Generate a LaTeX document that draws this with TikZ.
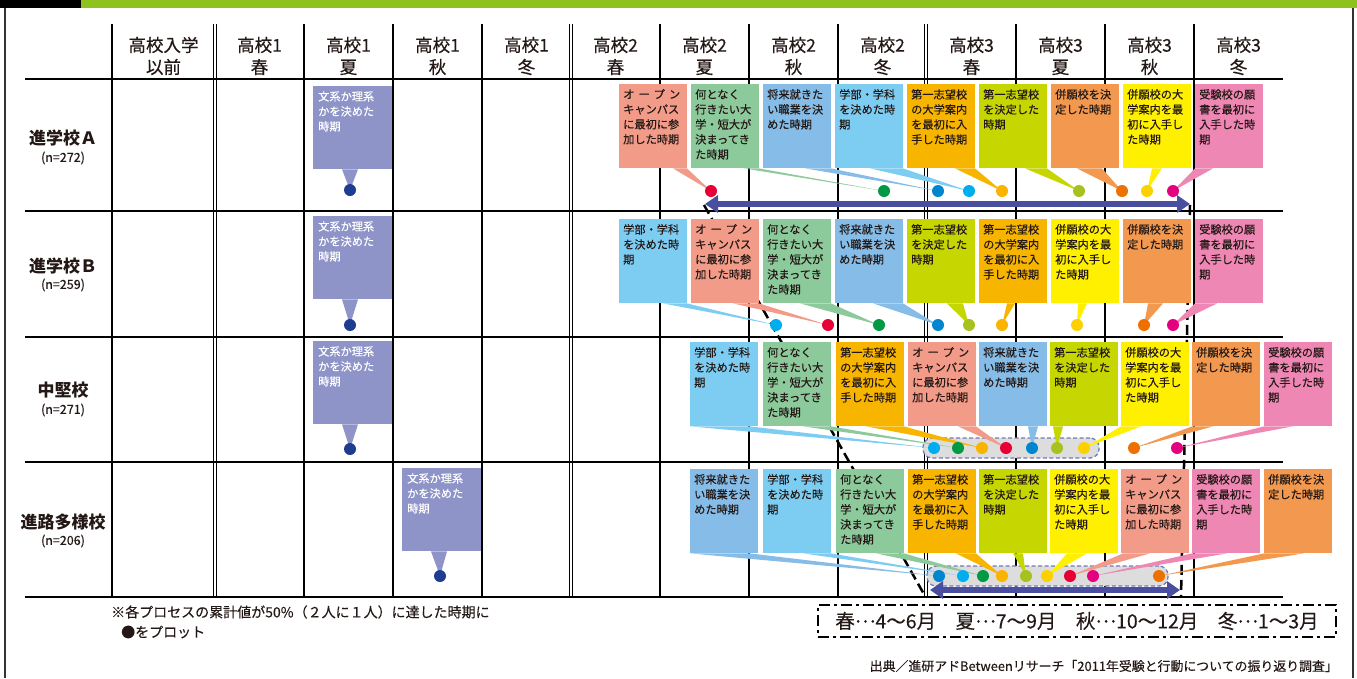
\documentclass[tikz,border=0pt]{standalone}
\usepackage{fontspec}
\setmainfont{Noto Sans CJK JP}
\newfontfamily\jpmed[FakeBold=0.5]{Noto Sans CJK JP}
\newfontfamily\jpsemi[FakeBold=0.25]{Noto Sans CJK JP}
\usetikzlibrary{calc,arrows.meta}
\pgfdeclarelayer{grid}
\pgfdeclarelayer{mid}
\pgfsetlayers{grid,mid,main}
\definecolor{cSal}{HTML}{F19B88}
\definecolor{cGrn}{HTML}{8CC99B}
\definecolor{cBlu}{HTML}{86BDE8}
\definecolor{cLbl}{HTML}{7DCDF3}
\definecolor{cGld}{HTML}{F8B500}
\definecolor{cYgr}{HTML}{C6D600}
\definecolor{cOrg}{HTML}{F2994F}
\definecolor{cYel}{HTML}{FFF000}
\definecolor{cPnk}{HTML}{EE87B3}
\definecolor{cPur}{HTML}{8E93C8}
\definecolor{dRed}{HTML}{E60033}
\definecolor{dGrn}{HTML}{009944}
\definecolor{dBlu}{HTML}{0085CF}
\definecolor{dCya}{HTML}{00AEEF}
\definecolor{dGld}{HTML}{FAB400}
\definecolor{dYgr}{HTML}{A5C21F}
\definecolor{dOrg}{HTML}{EE7000}
\definecolor{dYel}{HTML}{FDD000}
\definecolor{dMag}{HTML}{E4007F}
\definecolor{dNav}{HTML}{1F3D8F}
\definecolor{cArr}{HTML}{4A4E9E}
\definecolor{cBar}{HTML}{8DC21F}
\definecolor{cTxt}{HTML}{231815}
\definecolor{cHl}{HTML}{DDDDDD}
\definecolor{cHlB}{HTML}{7378B8}
\newcommand\cbt[1]{\parbox[b][74pt][t]{60pt}{\raggedright\jpsemi\fontsize{11.2}{15}\selectfont #1}}
\newcommand\pbt[1]{\parbox[b][73pt][t]{69pt}{\raggedright\jpsemi\fontsize{11.2}{15}\selectfont #1}}
\newcommand\opn{\leavevmode\hbox to 57pt{オ\hfill ー\hfill プ\hfill ン}}
\newcommand\tSal{\opn\\キャンパス\\に最初に参\\加した時期}
\newcommand\tGrn{何となく\\行きたい大\\学・短大が\\決まってき\\た時期}
\newcommand\tBlu{将来就きた\\い職業を決\\めた時期}
\newcommand\tLbl{学部・学科\\を決めた時\\期}
\newcommand\tGld{第一志望校\\の大学案内\\を最初に入\\手した時期}
\newcommand\tYgr{第一志望校\\を決定した\\時期}
\newcommand\tOrg{併願校を決\\定した時期}
\newcommand\tYel{併願校の大\\学案内を最\\初に入手し\\た時期}
\newcommand\tPnk{受験校の願\\書を最初に\\入手した時\\期}
\newcommand\tPur{文系か理系\\かを決めた\\時期}
\newcommand\mdots{\raisebox{0.3em}{…}}
\newcommand\rowtop{84}
\newcommand\rowdot{191}
\newcommand\callout[8]{%
  \node[dotn=#5] (#1d) at (#6,\rowdot) {};
  \begin{pgfonlayer}{mid}
    \node[cbox=#2] (#1) at (#3,\rowtop) {\cbt{#4}};
    \fill[#2] ($(#1.south west)+(#7,0)$) -- ($(#1.south west)+(#8,0)$) -- (#1d.center) -- cycle;
  \end{pgfonlayer}}
\newcommand\pcall[5]{%
  \node[dotn=dNav] (#1d) at (#4,#5) {};
  \begin{pgfonlayer}{mid}
    \node[pbox] (#1) at (#2,#3) {\pbt{\tPur}};
    \fill[cPur] ($(#1.south west)+(29,0)$) -- ($(#1.south west)+(45,0)$) -- (#1d.center) -- cycle;
  \end{pgfonlayer}}
\begin{document}
\begin{tikzpicture}[x=1pt,y=-1pt,
  cbox/.style={fill=#1, anchor=north west, inner xsep=4pt, inner ysep=5pt, text=cTxt},
  pbox/.style={fill=cPur, anchor=north west, inner xsep=5pt, inner ysep=5pt, text=white},
  dotn/.style={circle, fill=#1, inner sep=0pt, minimum size=12pt},
  gridl/.style={line width=2pt, black},
  dbl/.style={line width=1.1pt, black},
  hdr/.style={align=center, font=\jpmed\fontsize{17.5}{22}\selectfont, text=cTxt},
  rlab/.style={font=\bfseries\fontsize{17}{20}\selectfont, text=cTxt},
  nlab/.style={font=\jpsemi\fontsize{12.5}{15}\selectfont, text=cTxt},
  arr/.style={draw=cArr, line width=6pt, {Triangle[length=13pt,width=17pt]}-{Triangle[length=13pt,width=17pt]}},
  dline/.style={line width=2.5pt, black, dash pattern=on 10pt off 5pt},
  hl/.style={fill=cHl, draw=cHlB, line width=1.3pt, dash pattern=on 4pt off 2.5pt, rounded corners=9pt, inner sep=0pt}
]
\useasboundingbox (0,0) rectangle (1357,678);
\begin{pgfonlayer}{grid}
  \fill[black] (0,0) rectangle (81,8);
  \fill[cBar] (81,0) rectangle (1357,8);
  \draw[line width=1.5pt, black!80] (5,8) -- (5,678);
  \draw[line width=1.5pt, black!80] (1353,8) -- (1353,678);
  \foreach \yy in {79,211,337,462,597} \draw[gridl] (25,\yy) -- (1283,\yy);
  \foreach \xx in {112,304,393,482,660,749,838,1016,1105,1194} \draw[gridl] (\xx,24) -- (\xx,597);
  \foreach \xx in {215,571,926} {\draw[dbl] (\xx-1.8,24) -- (\xx-1.8,597); \draw[dbl] (\xx+1.8,24) -- (\xx+1.8,597);}
  \coordinate (dg1) at (704,205);
  \coordinate (dg2) at (925,596);
  \coordinate (dv1) at (1190,205);
  \coordinate (dv2) at (1181,596);
  \draw[dline] (dg1) -- (dg2);
  \draw[dline] (dv1) -- (dv2);
\end{pgfonlayer}
% header
\node[hdr] (h0) at (163.5,56) {高校入学\\以前};
\node[hdr] (h1) at (259.5,56) {高校1\\春};
\node[hdr] (h2) at (348.5,56) {高校1\\夏};
\node[hdr] (h3) at (437.5,56) {高校1\\秋};
\node[hdr] (h4) at (526.5,56) {高校1\\冬};
\node[hdr] (h5) at (615.5,56) {高校2\\春};
\node[hdr] (h6) at (704.5,56) {高校2\\夏};
\node[hdr] (h7) at (793.5,56) {高校2\\秋};
\node[hdr] (h8) at (882.5,56) {高校2\\冬};
\node[hdr] (h9) at (971.5,56) {高校3\\春};
\node[hdr] (h10) at (1060.5,56) {高校3\\夏};
\node[hdr] (h11) at (1149.5,56) {高校3\\秋};
\node[hdr] (h12) at (1238.5,56) {高校3\\冬};
% row labels
\node[rlab] (rA) at (63,138) {進学校Ａ};
\node[nlab] (nA) at (63,158) {(n=272)};
\node[rlab] (rB) at (63,266) {進学校Ｂ};
\node[nlab] (nB) at (63,285) {(n=259)};
\node[rlab] (rC) at (63,390) {中堅校};
\node[nlab] (nC) at (63,410) {(n=271)};
\node[rlab] (rD) at (63,522) {進路多様校};
\node[nlab] (nD) at (63,541) {(n=206)};
% purple callouts
\pcall{P1}{313}{86}{350}{190}
\pcall{P2}{313}{216}{350}{325}
\pcall{P3}{313}{341}{350}{449}
\pcall{P4}{402}{468}{440}{576}
% highlight rects
\begin{pgfonlayer}{mid}
  \node[hl, minimum width=176pt, minimum height=20pt] (hlC) at (1011,448) {};
  \node[hl, minimum width=241pt, minimum height=20pt] (hlD) at (1047.5,576) {};
\end{pgfonlayer}
% row A
\renewcommand\rowtop{84}\renewcommand\rowdot{191}
\callout{A1}{cSal}{619}{\tSal}{dRed}{711}{54}{68}
\callout{A2}{cGrn}{691}{\tGrn}{dGrn}{884}{53}{68}
\callout{A3}{cBlu}{763}{\tBlu}{dBlu}{938}{42}{68}
\callout{A4}{cLbl}{835}{\tLbl}{dCya}{969}{35}{68}
\callout{A5}{cGld}{907}{\tGld}{dGld}{1002}{48}{68}
\callout{A6}{cYgr}{979}{\tYgr}{dYgr}{1079}{46}{68}
\callout{A7}{cOrg}{1051}{\tOrg}{dOrg}{1122}{26}{51}
\callout{A8}{cYel}{1123}{\tYel}{dYel}{1147}{29}{39}
\callout{A9}{cPnk}{1195}{\tPnk}{dMag}{1173}{0}{18}
% row B
\renewcommand\rowtop{219}\renewcommand\rowdot{325}
\callout{B1}{cLbl}{619}{\tLbl}{dCya}{776}{44}{68}
\callout{B2}{cSal}{691}{\tSal}{dRed}{828}{42}{68}
\callout{B3}{cGrn}{763}{\tGrn}{dGrn}{879}{37}{68}
\callout{B4}{cBlu}{835}{\tBlu}{dBlu}{938}{38}{68}
\callout{B5}{cYgr}{907}{\tYgr}{dYgr}{969}{40}{56}
\callout{B6}{cGld}{979}{\tGld}{dGld}{1002}{28}{36}
\callout{B7}{cYel}{1051}{\tYel}{dYel}{1077}{27}{36}
\callout{B8}{cOrg}{1123}{\tOrg}{dOrg}{1144}{25}{40}
\callout{B9}{cPnk}{1195}{\tPnk}{dMag}{1173}{0}{22}
% row C
\renewcommand\rowtop{342}\renewcommand\rowdot{448}
\callout{C1}{cLbl}{690}{\tLbl}{dCya}{934}{0}{60}
\callout{C2}{cGrn}{763}{\tGrn}{dGrn}{958}{40}{68}
\callout{C3}{cGld}{836}{\tGld}{dGld}{982}{30}{68}
\callout{C4}{cSal}{908}{\tSal}{dRed}{1006}{50}{68}
\callout{C5}{cBlu}{979}{\tBlu}{dBlu}{1032}{49}{59}
\callout{C6}{cYgr}{1050}{\tYgr}{dYgr}{1057}{3}{13}
\callout{C7}{cYel}{1121}{\tYel}{dYel}{1084}{0}{20}
\callout{C8}{cOrg}{1192}{\tOrg}{dOrg}{1134}{0}{21}
\callout{C9}{cPnk}{1264}{\tPnk}{dMag}{1177}{0}{29}
% row D
\renewcommand\rowtop{469}\renewcommand\rowdot{576}
\callout{D1}{cBlu}{690}{\tBlu}{dBlu}{939}{0}{60}
\callout{D2}{cLbl}{763}{\tLbl}{dCya}{963}{40}{68}
\callout{D3}{cGrn}{836}{\tGrn}{dGrn}{983}{40}{68}
\callout{D4}{cGld}{908}{\tGld}{dGld}{1002}{48}{68}
\callout{D5}{cYgr}{979}{\tYgr}{dYgr}{1026}{34}{44}
\callout{D6}{cYel}{1050}{\tYel}{dYel}{1047}{17}{37}
\callout{D7}{cSal}{1121}{\tSal}{dRed}{1070}{2}{29}
\callout{D8}{cPnk}{1192}{\tPnk}{dMag}{1093}{0}{35}
\callout{D9}{cOrg}{1264}{\tOrg}{dOrg}{1159}{0}{40}
% arrows
\coordinate (a1l) at (705,204);
\coordinate (a1r) at (1190,204);
\draw[arr] (a1l) -- (a1r);
\coordinate (a4l) at (930,590);
\coordinate (a4r) at (1180,590);
\draw[arr] (a4l) -- (a4r);
% bottom texts
\node[anchor=west, font=\jpsemi\fontsize{14}{17}\selectfont, text=cTxt, inner sep=0pt] (note1) at (111,612) {※各プロセスの累計値が50\%（２人に１人）に達した時期に};
\node[anchor=west, font=\jpsemi\fontsize{14}{17}\selectfont, text=cTxt, inner sep=0pt] (note2) at (121,632) {●をプロット};
\node[draw, line width=2pt, dash pattern=on 11pt off 4pt on 3pt off 4pt, minimum width=518pt, minimum height=32pt, inner sep=0pt, font=\jpsemi\fontsize{19.5}{22}\selectfont, text=cTxt] (legend) at (1077,621) {春\mdots 4〜6月　夏\mdots 7〜9月　秋\mdots 10〜12月　冬\mdots 1〜3月};
\node[anchor=east, font=\jpsemi\fontsize{12.9}{15}\selectfont, text=cTxt, inner sep=0pt] (src) at (1338,666) {出典／進研アドBetweenリサーチ「2011年受験と行動についての振り返り調査」};
\end{tikzpicture}
\end{document}
